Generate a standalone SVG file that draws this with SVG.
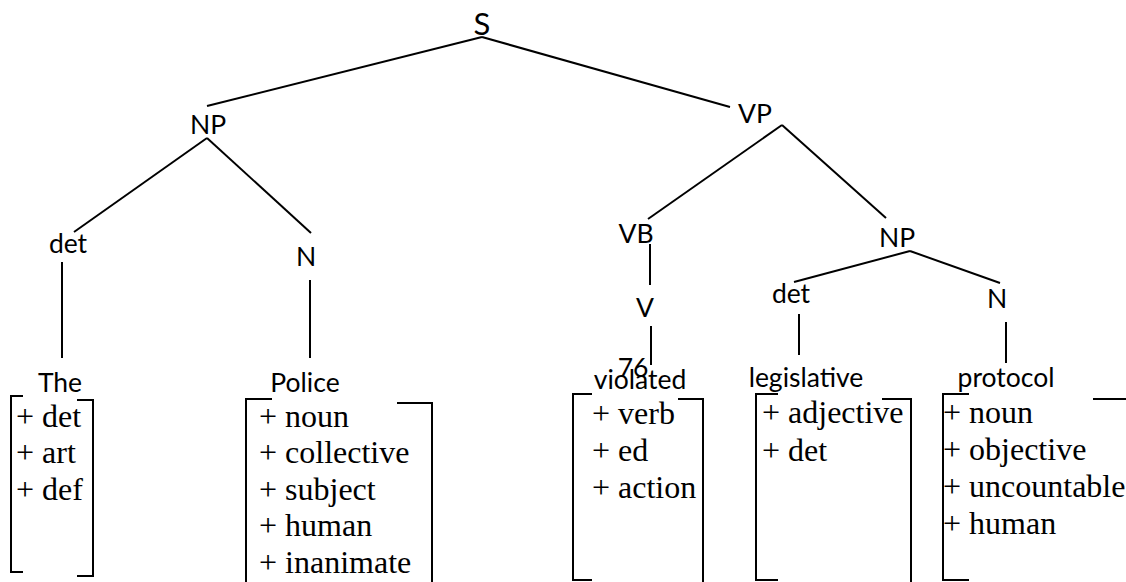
<svg xmlns="http://www.w3.org/2000/svg" width="1126" height="582" viewBox="0 0 1126 582">
  <style>
    .lbl { font-family: Lato, "Open Sans", "Liberation Sans", sans-serif; font-size: 26.5px; fill: #000; text-anchor: middle; }
    .feat { font-family: "Liberation Serif", "Times New Roman", serif; font-size: 32px; fill: #000; }
    .edge { stroke: #000; stroke-width: 2; fill: none; }
    .brk { stroke: #000; stroke-width: 2; fill: none; }
  </style>
  <rect width="1126" height="582" fill="#fff"/>

  <!-- tree branches -->
  <g id="connectors">
    <line class="edge" x1="482" y1="37" x2="207" y2="106"/>
    <line class="edge" x1="482" y1="37" x2="730" y2="107"/>
    <line class="edge" x1="207" y1="138" x2="74" y2="232"/>
    <line class="edge" x1="207" y1="138" x2="311" y2="233"/>
    <line class="edge" x1="62" y1="262" x2="62" y2="358"/>
    <line class="edge" x1="310" y1="280" x2="310" y2="358"/>
    <line class="edge" x1="782" y1="125" x2="648" y2="219"/>
    <line class="edge" x1="782" y1="125" x2="886" y2="218"/>
    <line class="edge" x1="650" y1="244" x2="650" y2="285"/>
    <line class="edge" x1="651" y1="326" x2="651" y2="365"/>
    <line class="edge" x1="910" y1="251" x2="794" y2="282"/>
    <line class="edge" x1="910" y1="251" x2="1000" y2="283"/>
    <line class="edge" x1="799" y1="314" x2="799" y2="355"/>
    <line class="edge" x1="1006" y1="322" x2="1006" y2="363"/>
  </g>

  <g id="S"><text class="lbl" x="482" y="35" style="font-size:31px">S</text></g>
  <g id="NP1"><text class="lbl" x="208" y="134">NP</text></g>
  <g id="VP"><text class="lbl" x="755" y="123">VP</text></g>
  <g id="det1"><text class="lbl" x="68" y="253">det</text></g>
  <g id="N1"><text class="lbl" x="306" y="266">N</text></g>
  <g id="VB"><text class="lbl" x="636" y="243">VB</text></g>
  <g id="NP2"><text class="lbl" x="897" y="247">NP</text></g>
  <g id="V"><text class="lbl" x="645" y="317">V</text></g>
  <g id="det2"><text class="lbl" x="791" y="303">det</text></g>
  <g id="N2"><text class="lbl" x="997" y="308">N</text></g>

  <!-- leaf: The -->
  <g id="leaf-the">
    <text class="lbl" x="60" y="392">The</text>
    <path class="brk" d="M23,396 H11 V572 H23"/>
    <path class="brk" d="M77,400 H93 V576 H77"/>
    <text class="feat" x="16" y="427">+ det</text>
    <text class="feat" x="16" y="463">+ art</text>
    <text class="feat" x="16" y="500">+ def</text>
  </g>

  <!-- leaf: Police -->
  <g id="leaf-police">
    <text class="lbl" x="305" y="392">Police</text>
    <path class="brk" d="M272,399 H246 V584"/>
    <path class="brk" d="M397,403 H432 V584"/>
    <text class="feat" x="259" y="427">+ noun</text>
    <text class="feat" x="259" y="463">+ collective</text>
    <text class="feat" x="259" y="500">+ subject</text>
    <text class="feat" x="259" y="536">+ human</text>
    <text class="feat" x="259" y="573">+ inanimate</text>
  </g>

  <!-- leaf: violated (page number 76 printed over the word) -->
  <g id="leaf-violated">
    <text class="lbl" x="633" y="377">76</text>
    <text class="lbl" x="640" y="389">violated</text>
    <path class="brk" d="M592,394 H573 V580 H592"/>
    <path class="brk" d="M678,399 H703 V584"/>
    <text class="feat" x="592" y="424">+ verb</text>
    <text class="feat" x="592" y="461">+ ed</text>
    <text class="feat" x="592" y="498">+ action</text>
  </g>

  <!-- leaf: legislative -->
  <g id="leaf-legislative">
    <text class="lbl" x="806" y="387">legislative</text>
    <path class="brk" d="M778,394 H756 V580 H778"/>
    <path class="brk" d="M882,399 H911 V584"/>
    <text class="feat" x="762" y="423">+ adjective</text>
    <text class="feat" x="762" y="461">+ det</text>
  </g>

  <!-- leaf: protocol -->
  <g id="leaf-protocol">
    <text class="lbl" x="1006" y="387">protocol</text>
    <path class="brk" d="M969,394 H943 V580 H969"/>
    <path class="brk" d="M1093,399 H1128"/>
    <text class="feat" x="943" y="423">+ noun</text>
    <text class="feat" x="943" y="460">+ objective</text>
    <text class="feat" x="943" y="497">+ uncountable</text>
    <text class="feat" x="943" y="534">+ human</text>
  </g>
</svg>
